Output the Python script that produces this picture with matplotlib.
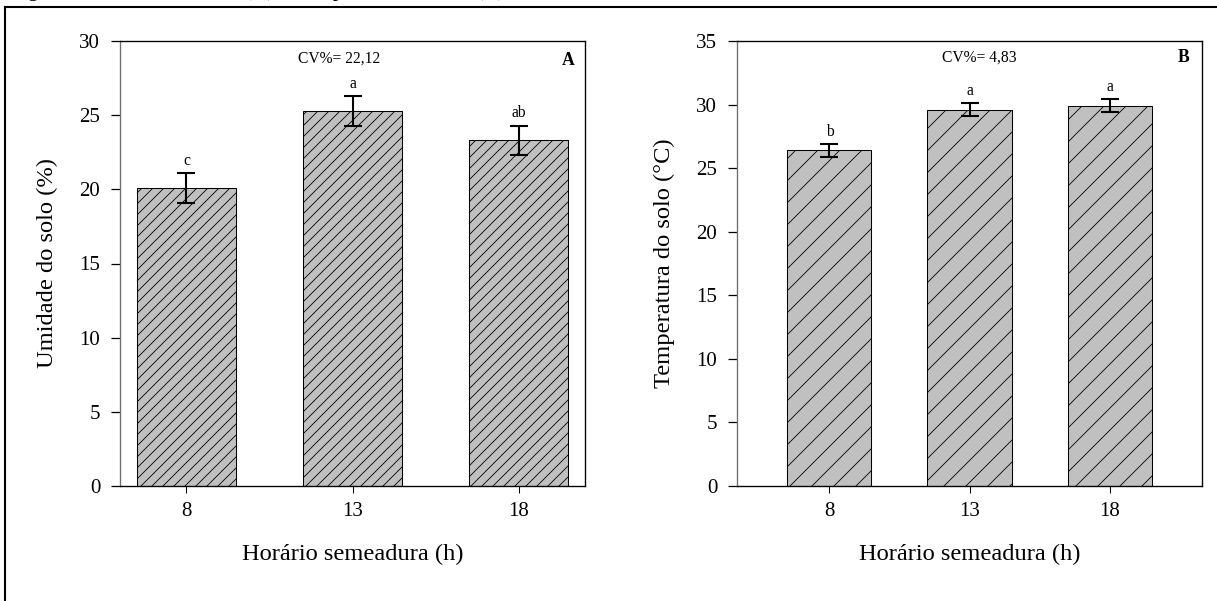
import matplotlib
matplotlib.use('Agg')
import matplotlib.pyplot as plt
from matplotlib.lines import Line2D

# %% data
horarios = ['8', '13', '18']
umidade = [20.1, 25.3, 23.3]
umidade_err = [1.0, 1.0, 1.0]
umidade_letras = ['c', 'a', 'ab']
temperatura = [26.4, 29.6, 29.9]
temperatura_err = [0.5, 0.5, 0.5]
temperatura_letras = ['b', 'a', 'a']
cv_umidade = 'CV%= 22,12'
cv_temperatura = 'CV%= 4,83'

W, H = 1217, 601
DPI = 66  # hatch spacing follows the dpi, sizes below are rescaled to it


def pt(v):
    return v * 75 / DPI


plt.rcParams['font.family'] = ['Liberation Serif', 'DejaVu Serif']
plt.rcParams['hatch.linewidth'] = pt(0.8)
plt.rcParams['hatch.color'] = 'black'

fig = plt.figure(figsize=(W / DPI, H / DPI), dpi=DPI)

# caption line running above the page border (only its lower part falls inside)
fig.text(10 / W, 1 + 3.8 / H, 'Figura 2. Umidade do solo (A), e temperatura do solo (B)',
         fontsize=pt(20.5), va='baseline', ha='left')

# page border
fig.add_artist(Line2D([5 / W, 5 / W], [0, 1 - 7 / H], color='black', lw=pt(2)))
fig.add_artist(Line2D([5 / W, 1], [1 - 7 / H, 1 - 7 / H], color='black', lw=pt(2)))


def painel(rect, valores, erros, letras, ymax, ystep, xlim, hatch, ylabel, cv, cv_pos, tag, tag_pos):
    ax = fig.add_axes(rect)
    x = range(len(valores))
    ax.bar(x, valores, width=0.6, color='#c0c0c0', edgecolor='black', linewidth=pt(1.0),
           hatch=hatch, zorder=2)
    ax.errorbar(x, valores, yerr=erros, fmt='none', ecolor='black', elinewidth=pt(2),
                capsize=pt(9), capthick=pt(2), zorder=3)
    for xi, v, e, l in zip(x, valores, erros, letras):
        ax.annotate(l, (xi, v + e), xytext=(0, pt(4)), textcoords='offset points',
                    ha='center', va='bottom', fontsize=pt(15))
    ax.set_xlim(*xlim)
    ax.set_ylim(0, ymax)
    ax.set_yticks(range(0, ymax + 1, ystep))
    ax.set_xticks(list(x))
    ax.set_xticklabels(horarios)
    ax.tick_params(axis='y', direction='out', length=pt(9), width=pt(1.2), pad=pt(10), labelsize=pt(20))
    ax.tick_params(axis='x', direction='out', length=pt(7), width=pt(1.0), pad=pt(8), labelsize=pt(20))
    for s in ax.spines.values():
        s.set_linewidth(pt(1.3))
    ax.spines['left'].set_color('#707070')
    ax.set_ylabel(ylabel, fontsize=pt(23.5), labelpad=pt(20))
    ax.set_xlabel('Horário semeadura (h)', fontsize=pt(23.5), labelpad=pt(22))
    ax.text(cv_pos[0], cv_pos[1], cv, ha='center', va='center', fontsize=pt(15))
    ax.text(tag_pos[0], tag_pos[1], tag, ha='center', va='center', fontsize=pt(17), fontweight='bold')
    return ax


ax_a = painel([120 / W, 1 - 486 / H, 465 / W, 445 / H], umidade, umidade_err, umidade_letras,
              30, 5, (-0.4, 2.4), '//', 'Umidade do solo (%)',
              cv_umidade, (0.92, 28.8), 'A', (2.3, 28.7))
ax_b = painel([737 / W, 1 - 486 / H, 465 / W, 445 / H], temperatura, temperatura_err, temperatura_letras,
              35, 5, (-0.66, 2.66), '/', 'Temperatura do solo (°C)',
              cv_temperatura, (1.07, 33.7), 'B', (2.53, 33.7))

fig.savefig('out.png', dpi=DPI)
